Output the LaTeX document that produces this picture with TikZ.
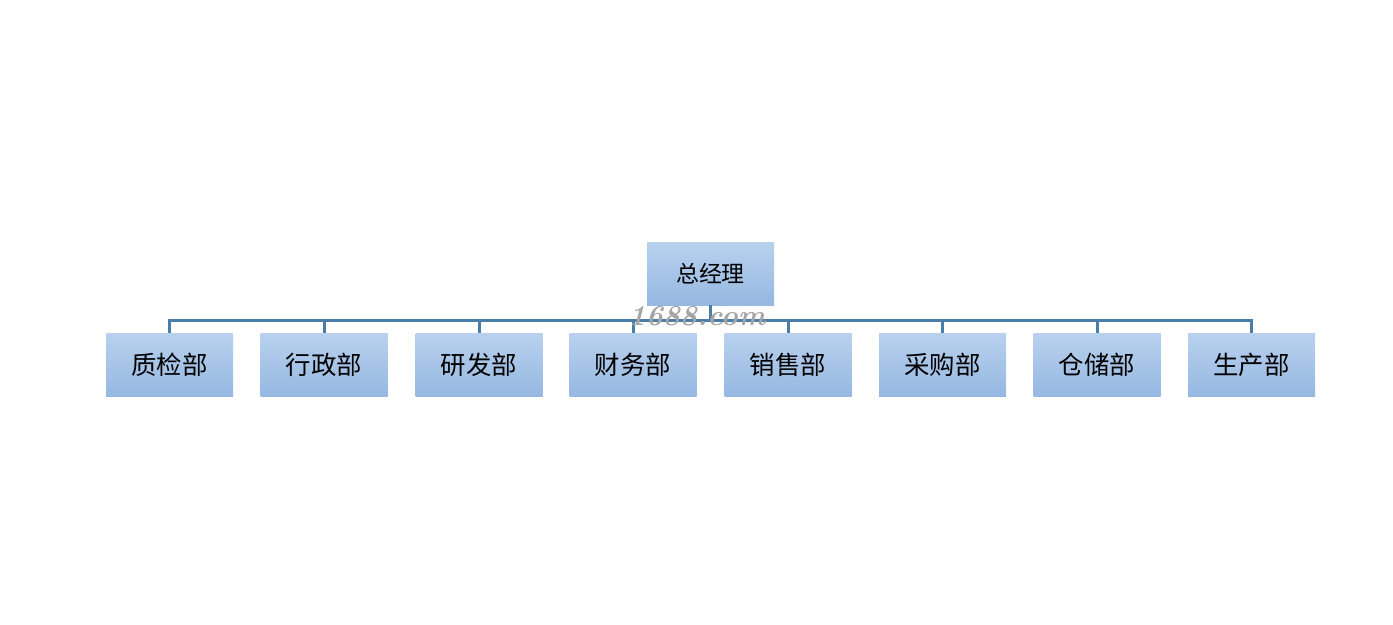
\documentclass[tikz,border=0pt]{standalone}
\usepackage{fontspec}
\newfontfamily\cjk{Noto Sans CJK SC}
\definecolor{boxtop}{RGB}{185,209,238}
\definecolor{boxbot}{RGB}{149,184,225}
\definecolor{linec}{RGB}{74,126,170}
\definecolor{wmark}{RGB}{165,165,165}
\begin{document}
\begin{tikzpicture}[x=1bp,y=-1bp,
  orgbox/.style={rectangle,minimum width=127bp,minimum height=63bp,inner sep=0pt,
    top color=boxtop,bottom color=boxbot,draw=none,font=\cjk\fontsize{25.5}{30}\selectfont},
  topbox/.style={orgbox,font=\cjk\fontsize{23}{27}\selectfont},
  conn/.style={draw=linec,line width=3bp}]
\useasboundingbox (0,0) rectangle (1393,625);
\fill[white] (0,0) rectangle (1393,625);
\node[topbox] (gm) at (710.5,273.5) {总经理};
\coordinate (bus) at (710.5,320);
\foreach \n/\x/\t in {d1/169.5/质检部,d2/324/行政部,d3/479/研发部,d4/633/财务部,d5/788/销售部,d6/942.5/采购部,d7/1097/仓储部,d8/1251.5/生产部}{
  \node[orgbox] (\n) at (\x,364.5) {\t};
}
\draw[conn] (gm.south) -- (bus);
\draw[conn] (d1.north) -- (d1.north |- bus) -- (d8.north |- bus) -- (d8.north);
\foreach \n in {d2,d3,d4,d5,d6,d7}{
  \draw[conn] (\n.north |- bus) -- (\n.north);
}
\node[font=\bfseries\itshape\fontsize{29}{31}\selectfont,text=wmark] (wm) at (697,316) {1688.com};
\end{tikzpicture}
\end{document}
